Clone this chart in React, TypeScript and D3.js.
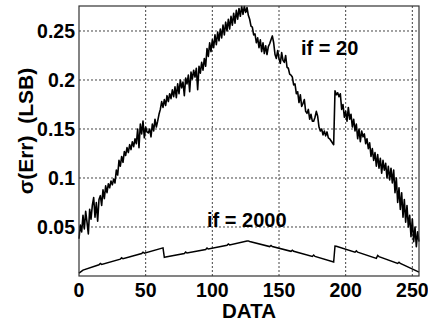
import React, { useEffect, useRef } from 'react';
import * as d3 from 'd3';

// sigma(Err) for if = 20, one value per DATA code 0..255
const errIf20: number[] = [
  0.038, 0.052, 0.045, 0.062, 0.048, 0.066, 0.055, 0.043, 0.068, 0.058, 0.072, 0.080, 0.060, 0.075, 0.056, 0.078,
  0.082, 0.072, 0.088, 0.079, 0.092, 0.085, 0.094, 0.090, 0.097, 0.093, 0.099, 0.095, 0.108, 0.103, 0.118, 0.112,
  0.122, 0.116, 0.127, 0.123, 0.131, 0.126, 0.134, 0.129, 0.137, 0.132, 0.140, 0.135, 0.150, 0.131, 0.155, 0.145,
  0.158, 0.141, 0.152, 0.147, 0.146, 0.150, 0.142, 0.155, 0.148, 0.160, 0.152, 0.158, 0.165, 0.170, 0.178, 0.172,
  0.180, 0.174, 0.184, 0.178, 0.186, 0.181, 0.190, 0.183, 0.193, 0.182, 0.196, 0.186, 0.200, 0.192, 0.198, 0.184,
  0.202, 0.196, 0.205, 0.188, 0.208, 0.201, 0.210, 0.203, 0.212, 0.190, 0.214, 0.207, 0.218, 0.210, 0.222, 0.214,
  0.232, 0.224, 0.238, 0.229, 0.241, 0.233, 0.246, 0.236, 0.249, 0.240, 0.252, 0.243, 0.256, 0.246, 0.259, 0.250,
  0.262, 0.252, 0.265, 0.256, 0.268, 0.258, 0.271, 0.262, 0.273, 0.265, 0.275, 0.267, 0.275, 0.269, 0.274, 0.266,
  0.262, 0.255, 0.254, 0.246, 0.247, 0.238, 0.243, 0.233, 0.241, 0.229, 0.238, 0.227, 0.235, 0.226, 0.234, 0.237,
  0.241, 0.245, 0.238, 0.226, 0.222, 0.230, 0.222, 0.217, 0.228, 0.220, 0.218, 0.225, 0.213, 0.212, 0.206, 0.205,
  0.203, 0.195, 0.196, 0.186, 0.188, 0.177, 0.185, 0.173, 0.176, 0.180, 0.168, 0.166, 0.170, 0.160, 0.165, 0.158,
  0.158, 0.162, 0.168, 0.163, 0.152, 0.148, 0.150, 0.144, 0.148, 0.143, 0.147, 0.141, 0.140, 0.138, 0.136, 0.134,
  0.189, 0.185, 0.187, 0.183, 0.186, 0.170, 0.175, 0.162, 0.168, 0.158, 0.172, 0.160, 0.165, 0.152, 0.160, 0.148,
  0.155, 0.140, 0.150, 0.137, 0.148, 0.142, 0.145, 0.135, 0.140, 0.130, 0.136, 0.122, 0.130, 0.118, 0.126, 0.112,
  0.124, 0.110, 0.120, 0.105, 0.118, 0.108, 0.115, 0.100, 0.112, 0.098, 0.110, 0.095, 0.108, 0.085, 0.100, 0.075,
  0.090, 0.068, 0.085, 0.060, 0.078, 0.055, 0.072, 0.050, 0.062, 0.040, 0.058, 0.035, 0.050, 0.030, 0.045, 0.035,
];

// sigma(Err) for if = 2000, vertices of the sawtooth curve
const dataIf2000: number[] = [
  0, 3, 15, 16, 17, 31, 32, 33, 47, 48, 49, 63, 64, 65, 79, 80, 81, 95, 96, 97, 111, 112, 113, 126, 127, 128,
  143, 144, 145, 159, 160, 161, 175, 176, 177, 191, 192, 193, 207, 208, 209, 223, 224, 225, 239, 240, 241, 255,
];
const errIf2000: number[] = [
  0.003, 0.006, 0.0114, 0.0128, 0.0118, 0.0172, 0.0186, 0.0176, 0.0229, 0.0243, 0.0233, 0.0287, 0.019, 0.0193,
  0.023, 0.0244, 0.0234, 0.0271, 0.0285, 0.0275, 0.0313, 0.0327, 0.0317, 0.0357, 0.0358, 0.0352,
  0.03, 0.0312, 0.03, 0.0252, 0.0264, 0.0252, 0.02, 0.0214, 0.02, 0.0143, 0.0306, 0.0304,
  0.0243, 0.0256, 0.0243, 0.018, 0.021, 0.0198, 0.0128, 0.014, 0.0128, 0.004,
];

const xTicks: number[] = [0, 50, 100, 150, 200, 250];
const yTicks: number[] = [0.05, 0.1, 0.15, 0.2, 0.25];
const yTickLabels: string[] = ['0.05', '0.1', '0.15', '0.2', '0.25'];

const Chart = () => {
  const ref = useRef<SVGSVGElement | null>(null);

  useEffect(() => {
    const svg = d3.select(ref.current);
    svg.selectAll('*').remove();

    const left = 79, right = 419, top = 6, bottom = 276;
    const x = d3.scaleLinear().domain([0, 255]).range([left, right]);
    const y = d3.scaleLinear().domain([0, 0.2755]).range([bottom, top]);
    const font = "'Liberation Sans', Arial, sans-serif";

    svg.append('rect')
      .attr('x', left).attr('y', top)
      .attr('width', right - left).attr('height', bottom - top)
      .attr('fill', '#fff');

    // dotted grid
    svg.selectAll('.gx').data(xTicks.filter(d => d > 0)).enter().append('line')
      .attr('x1', d => x(d)).attr('x2', d => x(d))
      .attr('y1', top).attr('y2', bottom)
      .attr('stroke', '#444').attr('stroke-dasharray', '2,2');
    svg.selectAll('.gy').data(yTicks).enter().append('line')
      .attr('x1', left).attr('x2', right)
      .attr('y1', d => y(d)).attr('y2', d => y(d))
      .attr('stroke', '#444').attr('stroke-dasharray', '2,2');

    const line = d3.line<[number, number]>()
      .x(d => x(d[0]))
      .y(d => y(d[1]));

    svg.append('path')
      .datum(errIf20.map((v, i) => [i, v] as [number, number]))
      .attr('d', line)
      .attr('fill', 'none').attr('stroke', '#000').attr('stroke-width', 1.6)
      .attr('stroke-linejoin', 'round');

    svg.append('path')
      .datum(dataIf2000.map((d, i) => [d, errIf2000[i]] as [number, number]))
      .attr('d', line)
      .attr('fill', 'none').attr('stroke', '#000').attr('stroke-width', 1.5);

    // box
    svg.append('rect')
      .attr('x', left).attr('y', top)
      .attr('width', right - left).attr('height', bottom - top)
      .attr('fill', 'none').attr('stroke', '#333').attr('stroke-width', 1.2);

    // tick labels
    svg.selectAll('.xt').data(xTicks).enter().append('text')
      .attr('x', d => x(d)).attr('y', 297)
      .attr('text-anchor', 'middle')
      .attr('font-family', font).attr('font-weight', 'bold').attr('font-size', 19.5)
      .text(d => d);
    svg.selectAll('.yt').data(yTicks).enter().append('text')
      .attr('x', left - 4).attr('y', d => y(d))
      .attr('dy', '0.35em')
      .attr('text-anchor', 'end')
      .attr('font-family', font).attr('font-weight', 'bold').attr('font-size', 19.5)
      .text((d, i) => yTickLabels[i]);

    // axis titles
    svg.append('text')
      .attr('x', (left + right) / 2).attr('y', 318)
      .attr('text-anchor', 'middle')
      .attr('font-family', font).attr('font-weight', 'bold').attr('font-size', 20.5)
      .text('DATA');
    svg.append('text')
      .attr('transform', 'translate(33,131) rotate(-90)')
      .attr('text-anchor', 'middle')
      .attr('font-family', font).attr('font-weight', 'bold').attr('font-size', 21)
      .style('white-space', 'pre')
      .text('σ(Err)  (LSB)');

    // curve annotations
    svg.append('text')
      .attr('x', 301).attr('y', 55)
      .attr('font-family', font).attr('font-weight', 'bold').attr('font-size', 20)
      .style('white-space', 'pre')
      .text('if = 20');
    svg.append('text')
      .attr('x', 207).attr('y', 227)
      .attr('font-family', font).attr('font-weight', 'bold').attr('font-size', 20)
      .style('white-space', 'pre')
      .text('if = 2000');
  }, []);

  return <svg ref={ref} width={428} height={325} style={{ position: 'absolute', left: 0, top: 0, background: '#fff' }} />;
};

export default function App() {
  return <Chart />;
}
